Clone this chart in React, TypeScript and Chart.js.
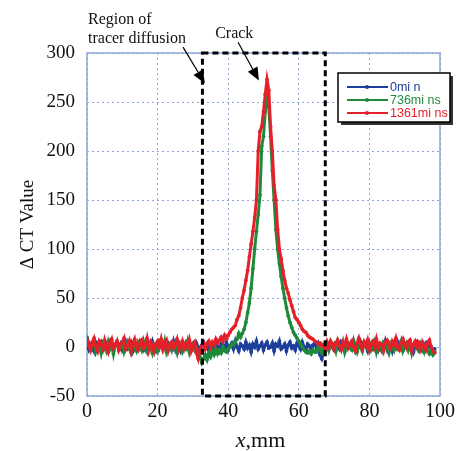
import { useEffect, useRef } from "react";
import { Chart, registerables } from "chart.js";

Chart.register(...registerables);

// x positions: one sample every 0.5 mm starting at 0 mm
const X_STEP_MM = 0.5;

// ΔCT values (0 → 98.5 mm, 0.5 mm step)
const BLUE_0MIN = [
  6, -2, 3, 1, -4, 5, 2, -1, 4, -3,
  0, 3, -2, 5, 1, -4, 2, 4, -1, 3,
  -3, 1, 5, -2, 0, 4, -4, 2, 3, -1,
  5, 0, -3, 2, 4, -2, 1, 6, -1, -4,
  3, 0, 5, -2, 2, -3, 4, 1, -1, 6,
  -2, 3, 0, -4, 4, 2, -1, 5, -3, 1,
  3, -2, 4, 0, -5, 2, 5, -1, 3, -3,
  1, 4, -2, 6, 0, -4, 3, 2, -1, 5,
  -3, 1, 4, -2, 6, 0, -4, 3, 1, -2,
  5, -1, 2, -5, 3, 0, 6, -2, 1, 4,
  -3, 2, 5, -1, 0, 4, -4, 3, 1, 6,
  -2, 0, 3, -4, 2, 5, -1, 1, -3, 4,
  2, -2, 5, 0, -3, 3, 1, -4, 2, 4,
  -1, 3, -8, -12, -6, 2, 4, -1, 5, 0,
  -3, 3, 1, -2, 5, 2, -4, 4, 0, 3,
  -1, 6, -3, 2, 0, 5, -2, 3, 1, -4,
  4, 0, -2, 5, 2, -3, 3, 1, -1, 6,
  -2, 2, 4, -4, 3, 0, 5, -1, 2, -3,
  1, 4, -2, 3, 0, -5, 2, 5, -1, 3,
  -3, 1, 4, -2, 2, 0, -4, -2,
];

const GREEN_736MIN = [
  10, 4, -3, 2, 6, -5, 0, 3, -6, 4,
  1, -4, 5, -2, 3, -7, 2, 6, -3, 0,
  4, -5, 1, 5, -2, -6, 3, 0, -4, 5,
  2, -3, 6, -1, -5, 4, 0, -6, 3, 1,
  -4, 5, 2, -2, 6, -5, 1, 3, -3, 4,
  0, -6, 5, 2, -4, 3, -1, 6, -5, 2,
  4, -3, 0, -8, -10, -16, -12, -8, -13, -6,
  -10, -4, -8, -2, -7, -3, -6, 0, -4, -5,
  -2, 0, 3, 2, 5, 8, 14, 10, 14, 18,
  25, 35, 45, 60, 80, 100, 118, 135, 155, 205,
  215, 240, 258, 245, 215, 180, 150, 120, 100, 85,
  72, 60, 50, 40, 32, 25, 20, 15, 12, 9,
  6, 3, 0, -3, -5, -6, -4, -7, -3, -5,
  -5, 0, -3, -6, 2, -1, 4, -3, 5, 0,
  3, -4, 6, 1, -2, 5, -5, 2, 4, -1,
  -3, 6, 0, -5, 3, 1, -4, 5, 2, -2,
  4, -3, 1, 6, -5, 2, 0, -4, 5, 3,
  -1, -6, 4, 2, -3, 5, -2, 0, 6, -4,
  1, 4, -3, 3, -6, 2, 5, -1, -4, 3,
  0, -5, 2, -3, -7, -4, -8, -5,
];

const RED_1361MIN = [
  8, 2, -3, 5, 9, 1, -4, 6, 3, -2,
  7, 0, -5, 4, 8, -1, 3, 6, -3, 2,
  5, 9, -2, 1, 6, -4, 3, 8, 0, -3,
  4, 7, -1, 2, 9, -3, 5, 1, -5, 3,
  6, 0, 8, -2, 4, 7, -4, 2, 5, -1,
  3, 8, -3, 1, 6, -2, 4, 0, 7, -4,
  2, 5, -6, -12, -3, 1, 4, -2, 3, 6,
  0, 5, 2, 8, 4, 7, 10, 6, 12, 9,
  12, 15, 18, 20, 22, 28, 32, 40, 50, 58,
  68, 78, 92, 105, 118, 132, 150, 200, 220, 225,
  240, 258, 273, 262, 225, 200, 165, 150, 120, 100,
  90, 78, 68, 60, 55, 48, 42, 36, 30, 28,
  25, 22, 18, 16, 15, 12, 10, 9, 8, 6,
  5, 3, 4, 1, 2, -3, 5, 0, 6, 3,
  -2, 4, 7, 1, -3, 5, 2, 8, -1, 3,
  6, 0, -4, 4, 9, 2, -2, 5, 1, 7,
  -3, 3, 6, 0, 8, -1, 4, 2, -4, 5,
  7, 1, -2, 6, 3, 9, 0, -3, 4, 8,
  2, -1, 5, 7, -4, 3, 6, 0, 4, -2,
  5, 1, -3, 4, 7, 0, -4, -6,
];

const X_MM = BLUE_0MIN.map((_, i) => i * X_STEP_MM);

const SERIES_LABELS = ["0mi n", "736mi ns", "1361mi ns"];
const SERIES_COLORS = ["#1d3f9b", "#1f8a3b", "#e5202a"];

const X_AXIS = { min: 0, max: 100, step: 20 };
const Y_AXIS = { min: -50, max: 300, step: 50 };

// dashed "region of tracer diffusion" box (x range, mm)
const DIFFUSION_REGION = [32.7, 67.5];

// annotation arrows: [startX, startY, tipX, tipY] in data units
const ARROW_REGION = [27.2, 306, 33.4, 269];
const ARROW_CRACK = [42.8, 311, 48.7, 272];

const SERIF = '"Liberation Serif", "Times New Roman", serif';
const SANS = '"Liberation Sans", Arial, sans-serif';

const overlayPlugin = {
  id: "overlay",
  beforeDatasetsDraw(chart: any) {
    const { ctx, chartArea: a } = chart;
    ctx.save();
    ctx.strokeStyle = "#8ea6d8";
    ctx.lineWidth = 1.5;
    ctx.strokeRect(a.left, a.top, a.right - a.left, a.bottom - a.top);
    ctx.restore();
  },
  afterDraw(chart: any) {
    const { ctx, chartArea: a } = chart;
    const xs = chart.scales.x;
    const ys = chart.scales.y;
    ctx.save();

    // dashed region box
    const bx1 = xs.getPixelForValue(DIFFUSION_REGION[0]);
    const bx2 = xs.getPixelForValue(DIFFUSION_REGION[1]);
    const by1 = ys.getPixelForValue(Y_AXIS.max);
    const by2 = ys.getPixelForValue(Y_AXIS.min);
    ctx.setLineDash([6, 4]);
    ctx.lineWidth = 3;
    ctx.strokeStyle = "#000";
    ctx.strokeRect(bx1, by1, bx2 - bx1, by2 - by1);
    ctx.setLineDash([]);

    // arrows
    const drawArrow = (arr: number[]) => {
      const x0 = xs.getPixelForValue(arr[0]);
      const y0 = ys.getPixelForValue(arr[1]);
      const x1 = xs.getPixelForValue(arr[2]);
      const y1 = ys.getPixelForValue(arr[3]);
      const ang = Math.atan2(y1 - y0, x1 - x0);
      const len = 13;
      const hw = 5.5;
      const bxp = x1 - len * Math.cos(ang);
      const byp = y1 - len * Math.sin(ang);
      ctx.beginPath();
      ctx.moveTo(x0, y0);
      ctx.lineTo(bxp, byp);
      ctx.lineWidth = 1.2;
      ctx.strokeStyle = "#000";
      ctx.stroke();
      ctx.beginPath();
      ctx.moveTo(x1, y1);
      ctx.lineTo(bxp + hw * Math.sin(ang), byp - hw * Math.cos(ang));
      ctx.lineTo(bxp - hw * Math.sin(ang), byp + hw * Math.cos(ang));
      ctx.closePath();
      ctx.fillStyle = "#000";
      ctx.fill();
    };
    drawArrow(ARROW_REGION);
    drawArrow(ARROW_CRACK);

    // annotation texts
    ctx.fillStyle = "#111";
    ctx.font = `16px ${SERIF}`;
    ctx.textAlign = "left";
    ctx.textBaseline = "alphabetic";
    ctx.fillText("Region of", a.left + 1, 24);
    ctx.fillText("tracer diffusion", a.left + 1, 43);
    ctx.fillText("Crack", xs.getPixelForValue(36.3), 38);

    // legend
    const lx = a.right - 102;
    const ly = a.top + 20;
    const lw = 112;
    const lh = 49;
    ctx.fillStyle = "#333";
    ctx.fillRect(lx + 3, ly + 3, lw, lh);
    ctx.fillStyle = "#fff";
    ctx.fillRect(lx, ly, lw, lh);
    ctx.strokeStyle = "#000";
    ctx.lineWidth = 1.5;
    ctx.strokeRect(lx, ly, lw, lh);
    ctx.font = `12.5px ${SANS}`;
    ctx.textBaseline = "middle";
    SERIES_LABELS.forEach((lab, i) => {
      const ry = ly + 14 + i * 13;
      ctx.strokeStyle = SERIES_COLORS[i];
      ctx.lineWidth = 2.2;
      ctx.beginPath();
      ctx.moveTo(lx + 9, ry);
      ctx.lineTo(lx + 50, ry);
      ctx.stroke();
      ctx.fillStyle = SERIES_COLORS[i];
      ctx.beginPath();
      ctx.arc(lx + 29, ry, 2, 0, Math.PI * 2);
      ctx.fill();
      ctx.fillText(lab, lx + 52, ry + 1);
    });

    // axis titles
    ctx.fillStyle = "#111";
    ctx.textAlign = "center";
    ctx.textBaseline = "alphabetic";
    ctx.save();
    ctx.translate(33, (a.top + a.bottom) / 2);
    ctx.rotate(-Math.PI / 2);
    ctx.font = `19px ${SERIF}`;
    ctx.fillText("\u0394 CT Value", 0, 0);
    ctx.restore();

    const cx = (a.left + a.right) / 2 - 3;
    ctx.font = `italic 22px ${SERIF}`;
    const w1 = ctx.measureText("x").width;
    ctx.font = `22px ${SERIF}`;
    const w2 = ctx.measureText(",mm").width;
    const sx = cx - (w1 + w2) / 2;
    ctx.textAlign = "left";
    ctx.font = `italic 22px ${SERIF}`;
    ctx.fillText("x", sx, 447);
    ctx.font = `22px ${SERIF}`;
    ctx.fillText(",mm", sx + w1, 447);

    ctx.restore();
  },
};

export default function App() {
  const ref = useRef<HTMLCanvasElement | null>(null);

  useEffect(() => {
    document.body.style.margin = "0";
    const canvas = ref.current;
    if (!canvas) return;
    const series = [BLUE_0MIN, GREEN_736MIN, RED_1361MIN];
    const chart = new Chart(canvas, {
      type: "line",
      data: {
        datasets: series.map((vals, i) => ({
          label: SERIES_LABELS[i],
          data: X_MM.map((x, j) => ({ x, y: vals[j] })),
          borderColor: SERIES_COLORS[i],
          backgroundColor: SERIES_COLORS[i],
          borderWidth: 3,
          pointRadius: 1.9,
          pointBorderWidth: 0,
          pointBackgroundColor: SERIES_COLORS[i],
          tension: 0,
          order: 3 - i,
        })),
      },
      options: {
        responsive: false,
        animation: false,
        devicePixelRatio: 1,
        layout: { padding: { left: 0, right: 19, top: 53, bottom: 0 } },
        plugins: {
          legend: { display: false },
          tooltip: { enabled: false },
        },
        scales: {
          x: {
            type: "linear",
            min: X_AXIS.min,
            max: X_AXIS.max,
            ticks: {
              stepSize: X_AXIS.step,
              color: "#111",
              font: { family: SERIF, size: 20 },
              padding: 4,
              maxRotation: 0,
            },
            grid: { color: "#8ea6d8", lineWidth: 1, drawTicks: false },
            border: { display: false, dash: [2, 3] },
            afterFit: (s: any) => {
              s.height = 55;
            },
          },
          y: {
            type: "linear",
            min: Y_AXIS.min,
            max: Y_AXIS.max,
            ticks: {
              stepSize: Y_AXIS.step,
              color: "#111",
              font: { family: SERIF, size: 19 },
              padding: 12,
            },
            grid: { color: "#8ea6d8", lineWidth: 1, drawTicks: false },
            border: { display: false, dash: [2, 3] },
            afterFit: (s: any) => {
              s.width = 87;
            },
          },
        },
      },
      plugins: [overlayPlugin],
    } as any);
    return () => chart.destroy();
  }, []);

  return (
    <div style={{ width: 459, height: 451, background: "#fff" }}>
      <canvas ref={ref} width={459} height={451} />
    </div>
  );
}
